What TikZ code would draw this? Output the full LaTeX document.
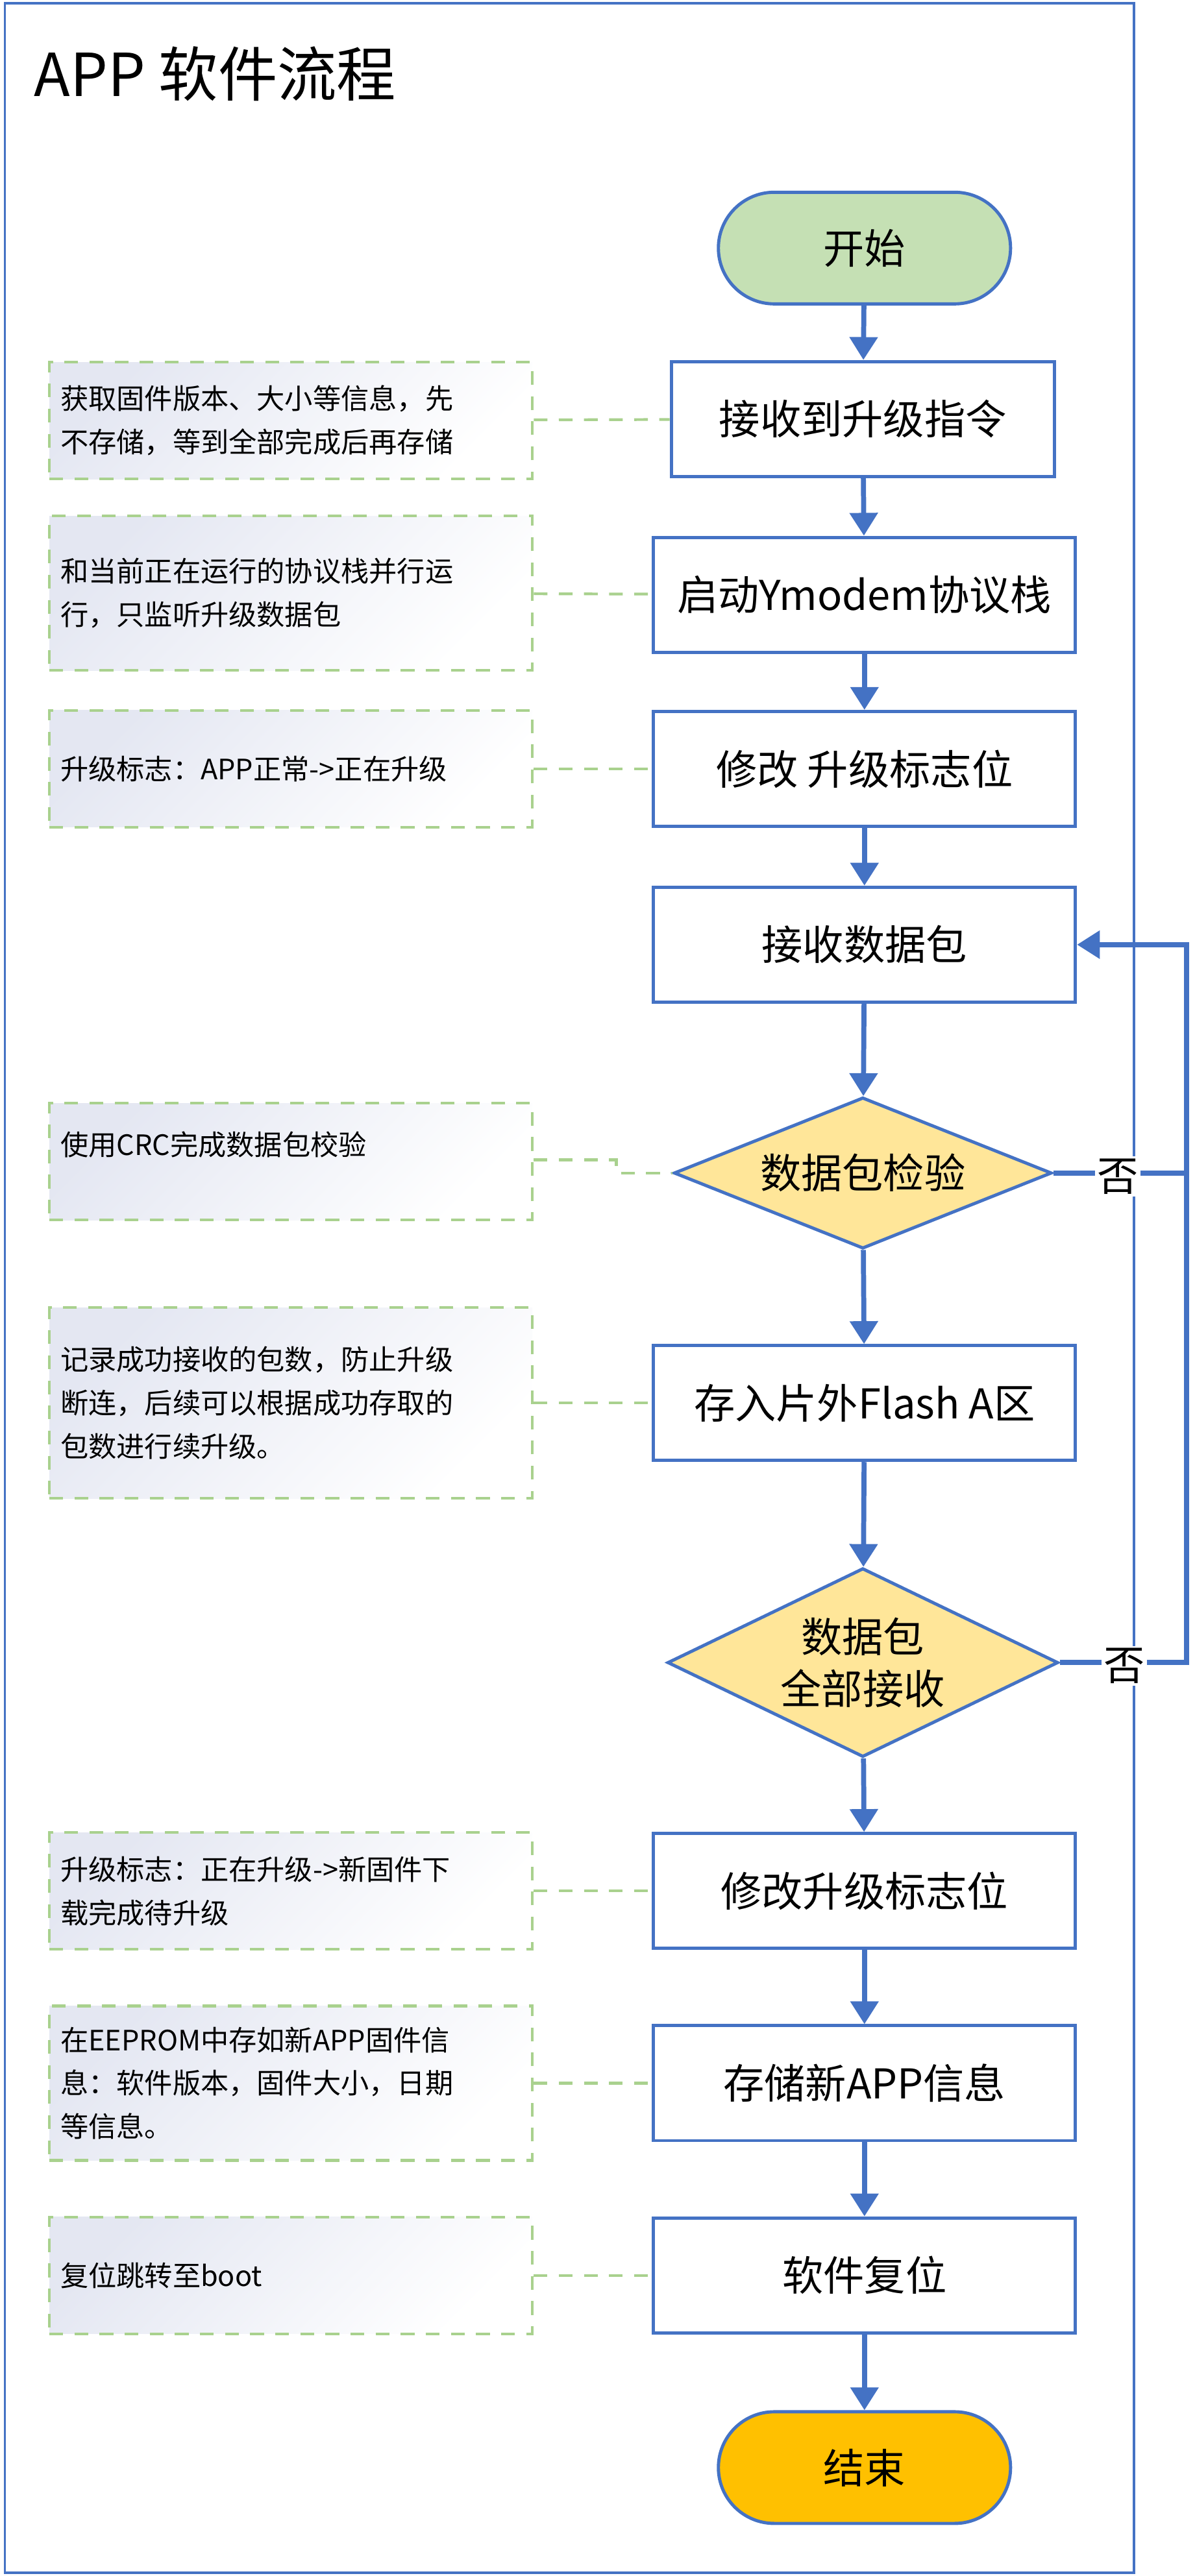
\documentclass[tikz,border=0pt]{standalone}
\usepackage{fontspec}
\setmainfont{Noto Sans CJK SC}
\usetikzlibrary{shapes.geometric,arrows.meta}
\definecolor{lineblue}{HTML}{4472C4}
\definecolor{startgreen}{HTML}{C5E0B4}
\definecolor{endorange}{HTML}{FFC000}
\definecolor{decyellow}{HTML}{FFE699}
\definecolor{notegreen}{HTML}{A9D18E}
\definecolor{noteblue}{HTML}{E4E7F2}
\tikzset{
  proc/.style={draw=lineblue,line width=1.4pt,fill=white,minimum width=6.5cm,minimum height=1.77cm,font=\fontsize{18}{21}\selectfont},
  term/.style={proc,rounded corners=0.86cm,minimum width=4.5cm,minimum height=1.72cm},
  check/.style={draw=lineblue,line width=1.4pt,fill=decyellow,diamond,aspect=2.5,minimum width=5.82cm,minimum height=2.33cm,inner sep=0pt,align=center,font=\fontsize{18}{23}\selectfont},
  note/.style={draw=notegreen,line width=1.2pt,dash pattern=on 6pt off 5pt,shading=axis,left color=noteblue,right color=white,shading angle=45,minimum width=7.44cm,text width=7.1cm,align=left,font=\fontsize{12.3}{19}\selectfont},
  link/.style={draw=notegreen,line width=1.2pt,dash pattern=on 6pt off 5pt},
  flow/.style={draw=lineblue,line width=2.2pt,-{Triangle[length=10pt,width=12pt]}},
}
\begin{document}
\begin{tikzpicture}[x=0.02531cm,y=-0.02531cm]
\useasboundingbox (0,0) rectangle (727,1568);
\draw[lineblue,line width=1pt] (3,2) rectangle (690,1566);
\node[anchor=west,font=\fontsize{26}{30}\selectfont] (title) at (16,45) {APP 软件流程};
% main flow
\node[term,fill=startgreen] (start) at (526,151) {开始};
\node[proc,minimum width=5.9cm] (cmd) at (525,255) {接收到升级指令};
\node[proc] (ymodem) at (526,362) {启动Ymodem协议栈};
\node[proc] (flag1) at (526,468) {修改 升级标志位};
\node[proc] (recv) at (526,575) {接收数据包};
\node[check] (crc) at (525,714) {数据包检验};
\node[proc] (flash) at (526,854) {存入片外Flash A区};
\node[check,minimum height=2.91cm] (all) at (525,1012) {数据包\\全部接收};
\node[proc] (flag2) at (526,1151) {修改升级标志位};
\node[proc] (save) at (526,1268) {存储新APP信息};
\node[proc] (reset) at (526,1385) {软件复位};
\node[term,fill=endorange] (stop) at (526,1502) {结束};
\draw[flow] (start) -- (cmd);
\draw[flow] (cmd) -- (ymodem);
\draw[flow] (ymodem) -- (flag1);
\draw[flow] (flag1) -- (recv);
\draw[flow] (recv) -- (crc);
\draw[flow] (crc) -- (flash);
\draw[flow] (flash) -- (all);
\draw[flow] (all) -- (flag2);
\draw[flow] (flag2) -- (save);
\draw[flow] (save) -- (reset);
\draw[flow] (reset) -- (stop);
% loops back
\coordinate (back) at (722,575);
\draw[flow] (crc.east) -- (722,714) -- (back) -- (recv.east);
\draw[lineblue,line width=2.2pt] (all.east) -- (722,1012) -- (722,714);
\node[fill=white,inner sep=1pt,font=\fontsize{18}{21}\selectfont] (no1) at (680,716) {否};
\node[fill=white,inner sep=1pt,font=\fontsize{18}{21}\selectfont] (no2) at (684,1014) {否};
% notes
\node[note,minimum height=1.8cm] (n1) at (177,256) {获取固件版本、大小等信息，先\\不存储，等到全部完成后再存储};
\node[note,minimum height=2.38cm] (n2) at (177,361) {和当前正在运行的协议栈并行运\\行，只监听升级数据包};
\node[note,minimum height=1.8cm] (n3) at (177,468) {升级标志：APP正常->正在升级};
\node[note,minimum height=1.8cm,text depth=0.55cm] (n4) at (177,707) {使用CRC完成数据包校验};
\node[note,minimum height=2.94cm] (n5) at (177,854) {记录成功接收的包数，防止升级\\断连，后续可以根据成功存取的\\包数进行续升级。};
\node[note,minimum height=1.8cm] (n6) at (177,1151) {升级标志：正在升级->新固件下\\载完成待升级};
\node[note,minimum height=2.38cm] (n7) at (177,1268) {在EEPROM中存如新APP固件信\\息：软件版本，固件大小，日期\\等信息。};
\node[note,minimum height=1.8cm] (n8) at (177,1385) {复位跳转至boot};
\draw[link] (n1) -- (cmd);
\draw[link] (n2) -- (ymodem);
\draw[link] (n3) -- (flag1);
\draw[link] (n4.east |- 0,706) -- (375,706) -- (375,714) -- (crc.west);
\draw[link] (n5) -- (flash);
\draw[link] (n6) -- (flag2);
\draw[link] (n7) -- (save);
\draw[link] (n8) -- (reset);
\end{tikzpicture}
\end{document}
